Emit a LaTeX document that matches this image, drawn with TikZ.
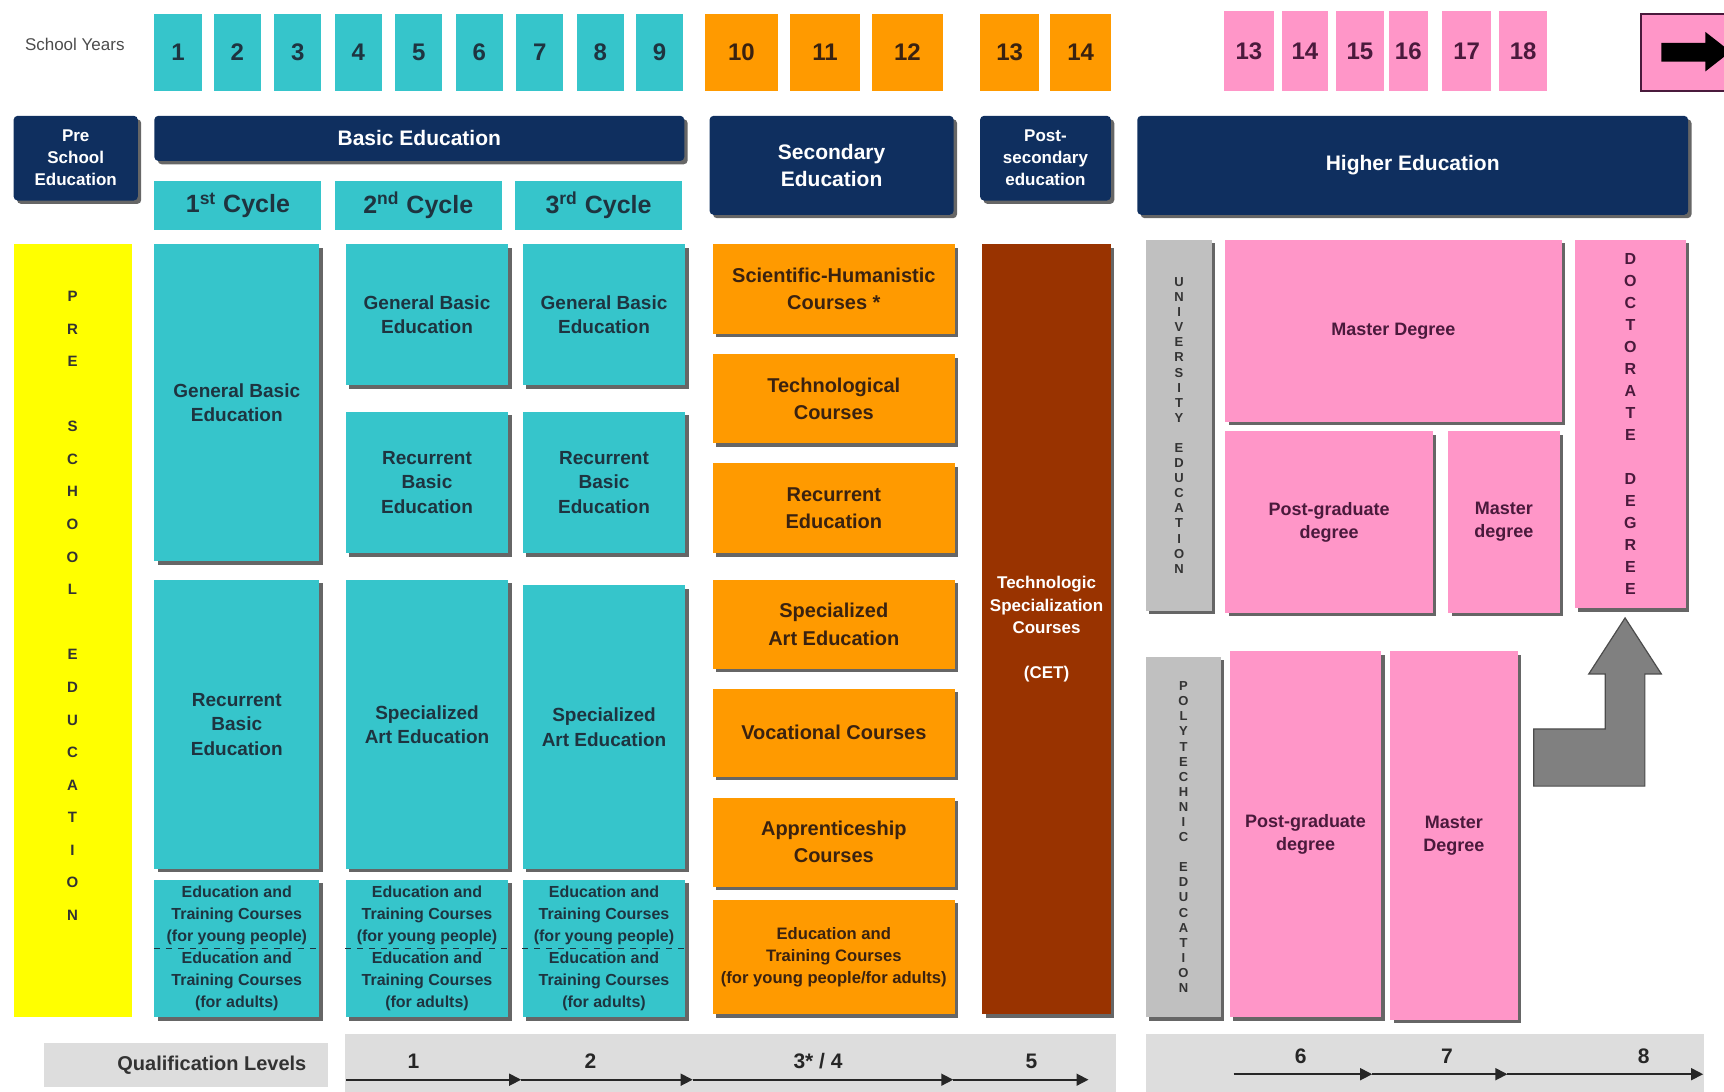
\documentclass[tikz,border=0pt]{standalone}
\usepackage{fontspec}
\setmainfont{Liberation Sans}
\usepackage{xcolor}
\usetikzlibrary{arrows.meta, positioning, shadows}
\definecolor{Navy}{HTML}{0F2F5F}
\definecolor{Teal}{HTML}{36C5CB}
\definecolor{Amber}{HTML}{FF9A00}
\definecolor{Rose}{HTML}{FF96C8}
\definecolor{Rust}{HTML}{993300}
\definecolor{Lemon}{HTML}{FFFF00}
\definecolor{Silver}{HTML}{C0C0C0}
\definecolor{LevelGray}{HTML}{DDDDDD}
\definecolor{ArrowGray}{HTML}{808080}
\definecolor{TealInk}{HTML}{1E3440}
\definecolor{AmberInk}{HTML}{3A2210}
\definecolor{RoseInk}{HTML}{4A1A3C}

\begin{document}
\begin{tikzpicture}[x=0.55pt, y=-0.55pt,
    wh/.style 2 args={minimum width=#1*0.55pt, minimum height=#2*0.55pt},
    dshadow/.style={drop shadow={shadow xshift=1.7pt, shadow yshift=-1.7pt, fill=black!60, opacity=1}},
    cell/.style={anchor=north west, inner sep=0pt, align=center},
    yr/.style={cell, font=\bfseries\fontsize{12}{14}\selectfont},
    hdr/.style={cell, fill=Navy, text=white, rounded corners=2pt, dshadow, font=\bfseries\fontsize{10.5}{13.2}\selectfont},
    hdrs/.style={hdr, font=\bfseries\fontsize{8.5}{11}\selectfont},
    cyc/.style={cell, fill=Teal, text=TealInk, font=\bfseries\fontsize{12.5}{14}\selectfont},
    tbox/.style={cell, fill=Teal, text=TealInk, dshadow, font=\bfseries\fontsize{9.5}{12.2}\selectfont},
    tetc/.style={tbox, font=\bfseries\fontsize{8}{11}\selectfont},
    obox/.style={cell, fill=Amber, text=AmberInk, dshadow, font=\bfseries\fontsize{10}{13.6}\selectfont},
    pbox/.style={cell, fill=Rose, text=RoseInk, dshadow, font=\bfseries\fontsize{9}{11.5}\selectfont},
    gbox/.style={cell, fill=Silver, dshadow, text=black!80, font=\bfseries\fontsize{6.5}{7.55}\selectfont},
    lvl/.style={cell, fill=LevelGray},
    num/.style={font=\bfseries\fontsize{10.5}{12}\selectfont, text=black!85},
    lvarrow/.style={-{Triangle[length=6pt, width=6pt]}, line width=0.8pt, black!85}
]
\useasboundingbox (0,0) rectangle (1568,993);
\clip (0,0) rectangle (1568,993);

% School years
\node[font=\fontsize{8.5}{10}\selectfont, text=black!70] (years) at (68,40) {School Years};
\foreach \n/\x in {1/140, 2/194, 3/249, 4/304, 5/359, 6/414, 7/469, 8/524, 9/578}
    \node[yr, fill=Teal, text=TealInk, wh={43}{70}] (yb\n) at (\x,12) {\n};
\foreach \n/\x/\w in {10/641/66, 11/718/64, 12/793/64}
    \node[yr, fill=Amber, text=AmberInk, wh={\w}{70}] (ys\n) at (\x,12) {\n};
\foreach \n/\x/\w in {13/891/54, 14/955/55}
    \node[yr, fill=Amber, text=AmberInk, wh={\w}{70}] (yp\n) at (\x,12) {\n};
\foreach \n/\x/\w in {13/1113/45, 14/1166/41, 15/1215/43, 16/1263/35, 17/1311/45, 18/1363/44}
    \node[yr, fill=Rose, text=RoseInk, wh={\w}{72}] (yh\n) at (\x,10) {\n};
\node[cell, fill=Rose, draw=RoseInk, line width=1pt, wh={120}{70}] (nextbox) at (1492,12) {};
\fill[black] (1511,39) -- (1551,39) -- (1551,29) -- (1574,47) -- (1551,65) -- (1551,56) -- (1511,56) -- cycle;

% Headers
\node[hdrs, wh={113}{77}] (hpre) at (12,105) {Pre\\School\\Education};
\node[hdr, wh={482}{41}] (hbasic) at (140,105) {Basic Education};
\node[hdr, wh={222}{90}] (hsec) at (645,105) {Secondary\\Education};
\node[hdrs, wh={119}{77}] (hpost) at (891,105) {Post-\\secondary\\education};
\node[hdr, wh={501}{90}] (hhigh) at (1034,105) {Higher Education};

% Cycles
\node[cyc, wh={152}{45}] (cyc1) at (140,164) {1\textsuperscript{st} Cycle};
\node[cyc, wh={152}{45}] (cyc2) at (304,164) {2\textsuperscript{nd} Cycle};
\node[cyc, wh={152}{45}] (cyc3) at (468,164) {3\textsuperscript{rd} Cycle};

% Pre-school
\node[cell, fill=Lemon, wh={108}{703}] (pre) at (12,222) {};
\node[align=center, inner sep=0pt, text=black!80, font=\bfseries\fontsize{7.5}{16.3}\selectfont] (pretxt) at (66,551)
    {P\\R\\E\\[16.3pt]S\\C\\H\\O\\O\\L\\[16.3pt]E\\D\\U\\C\\A\\T\\I\\O\\N};

% Basic education
\node[tbox, wh={150}{288}] (gbe1) at (140,222) {General Basic\\Education};
\node[tbox, wh={150}{263}] (rbe1) at (140,527) {Recurrent\\Basic\\Education};
\node[tetc, wh={150}{125}] (etc1) at (140,800) {Education and\\Training Courses\\(for young people)\\Education and\\Training Courses\\(for adults)};
\node[tbox, wh={148}{128}] (gbe2) at (314,222) {General Basic\\Education};
\node[tbox, wh={148}{129}] (rbe2) at (314,374) {Recurrent\\Basic\\Education};
\node[tbox, wh={148}{263}] (sae2) at (314,527) {Specialized\\Art Education};
\node[tetc, wh={148}{125}] (etc2) at (314,800) {Education and\\Training Courses\\(for young people)\\Education and\\Training Courses\\(for adults)};
\node[tbox, wh={148}{128}] (gbe3) at (475,222) {General Basic\\Education};
\node[tbox, wh={148}{129}] (rbe3) at (475,374) {Recurrent\\Basic\\Education};
\node[tbox, wh={148}{258}] (sae3) at (475,532) {Specialized\\Art Education};
\node[tetc, wh={148}{125}] (etc3) at (475,800) {Education and\\Training Courses\\(for young people)\\Education and\\Training Courses\\(for adults)};
\foreach \e in {etc1, etc2, etc3}
    \draw[dashed, TealInk, line width=0.5pt] (\e.west) -- (\e.east);

% Secondary education
\node[obox, wh={220}{81}] (sci) at (648,222) {Scientific-Humanistic\\Courses *};
\node[obox, wh={220}{81}] (tech) at (648,322) {Technological\\Courses};
\node[obox, wh={220}{82}] (rec) at (648,421) {Recurrent\\Education};
\node[obox, wh={220}{81}] (art) at (648,527) {Specialized\\Art Education};
\node[obox, wh={220}{80}] (voc) at (648,626) {Vocational Courses};
\node[obox, wh={220}{81}] (app) at (648,725) {Apprenticeship\\Courses};
\node[obox, wh={220}{104}, font=\bfseries\fontsize{8.3}{11}\selectfont] (etcs) at (648,818) {Education and\\Training Courses\\(for young people/for adults)};

% Post-secondary
\node[cell, fill=Rust, text=white, dshadow, wh={117}{700}, font=\bfseries\fontsize{8.5}{11.3}\selectfont] (cet) at (893,222)
    {Technologic\\Specialization\\Courses\\[11.3pt](CET)};

% Higher education
\node[gbox, wh={60}{337}] (univ) at (1042,218) {U\\N\\I\\V\\E\\R\\S\\I\\T\\Y\\[7.55pt]E\\D\\U\\C\\A\\T\\I\\O\\N};
\node[pbox, wh={306}{165}] (mast1) at (1114,218) {Master Degree};
\node[pbox, wh={189}{165}] (pgd1) at (1114,392) {Post-graduate\\degree};
\node[pbox, wh={101}{165}] (mast2) at (1317,392) {Master\\degree};
\node[pbox, wh={101}{335}, font=\bfseries\fontsize{8}{11}\selectfont] (doc) at (1432,218)
    {D\\O\\C\\T\\O\\R\\A\\T\\E\\[11pt]D\\E\\G\\R\\E\\E};
\node[gbox, wh={68}{328}] (poly) at (1042,597) {P\\O\\L\\Y\\T\\E\\C\\H\\N\\I\\C\\[7.55pt]E\\D\\U\\C\\A\\T\\I\\O\\N};
\node[pbox, wh={138}{333}] (pgd2) at (1118,592) {Post-graduate\\degree};
\node[pbox, wh={116}{335}] (mast3) at (1264,592) {Master\\Degree};

% Access arrow to doctorate
\draw[fill=ArrowGray, draw=black!70, line width=0.6pt] (1478,562) -- (1511,613) -- (1496,613) -- (1496,715) -- (1395,715)
    -- (1395,663) -- (1460,663) -- (1460,613) -- (1445,613) -- cycle;

% Qualification levels
\node[lvl, wh={258}{40}] (qlbox) at (40,948) {};
\node[anchor=east, text=black!80, font=\bfseries\fontsize{10}{12}\selectfont] (qltxt) at (285,969) {Qualification Levels};
\node[lvl, wh={702}{60}] (lvA) at (313,940) {};
\node[lvl, wh={507}{60}] (lvB) at (1042,940) {};
\foreach \c/\x in {a0/315, a1/474, a2/630, a3/867, a4/990}
    \coordinate (\c) at (\x,982);
\foreach \c/\x in {b0/1122, b1/1248, b2/1371, b3/1549}
    \coordinate (\c) at (\x,977);
\foreach \p/\q in {a0/a1, a1/a2, a2/a3, a3/a4, b0/b1, b1/b2, b2/b3}
    \draw[lvarrow] (\p) -- (\q);
\foreach \l/\x/\t in {l1/376/1, l2/537/2, l3/744/{3* / 4}, l5/938/5}
    \node[num] (\l) at (\x,965) {\t};
\foreach \l/\x/\t in {l6/1183/6, l7/1316/7, l8/1495/8}
    \node[num] (\l) at (\x,961) {\t};
\end{tikzpicture}
\end{document}
